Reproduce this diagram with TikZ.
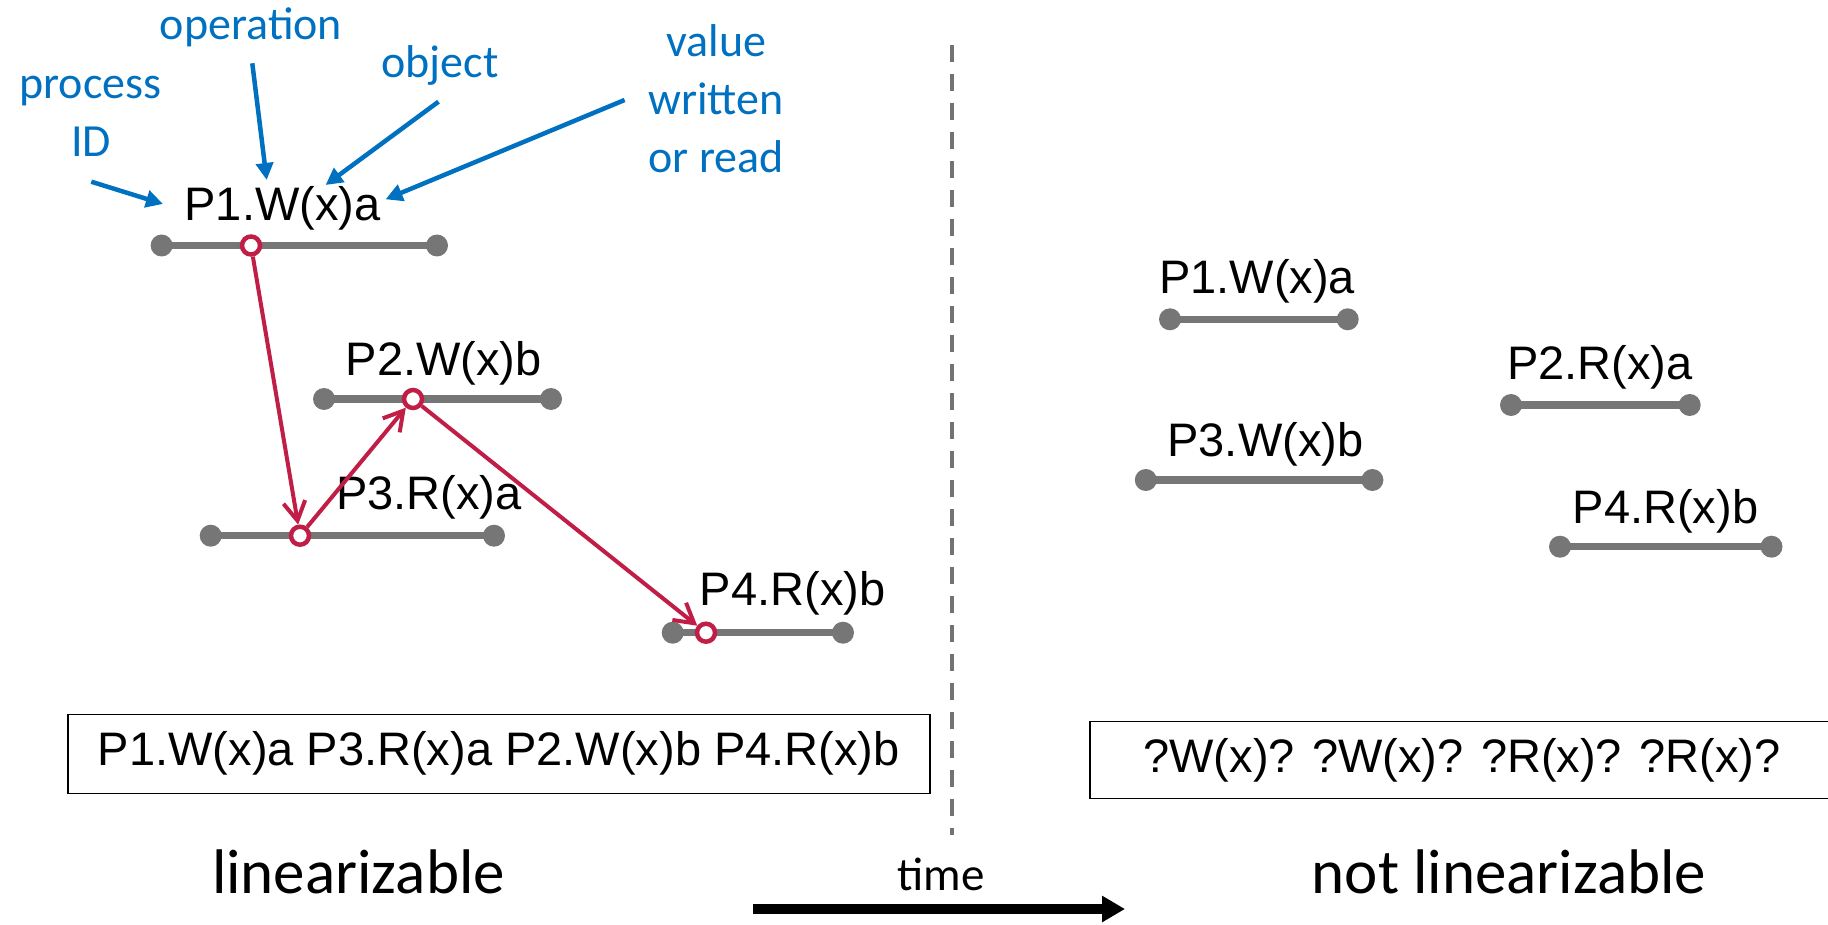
\documentclass[tikz,border=0pt]{standalone}
\usepackage{fontspec}
\setmainfont{Liberation Sans}
\newfontfamily\calib{Carlito}
\usetikzlibrary{arrows.meta}
\definecolor{barGray}{RGB}{118,118,118}
\definecolor{dashGray}{RGB}{115,115,115}
\definecolor{linkRed}{RGB}{192,30,70}
\definecolor{noteBlue}{RGB}{0,112,192}
\newcommand\opfont{\fontsize{47}{56}\selectfont}
\newcommand\notefont{\calib\fontsize{46}{55}\selectfont}
\newcommand\bigfont{\calib\fontsize{63}{75}\selectfont}
\newcommand\timefont{\calib\fontsize{47}{56}\selectfont}
\begin{document}
\begin{tikzpicture}[x=1pt,y=-1pt,
  bar/.style={line width=7.5pt,draw=barGray},
  enddot/.style={circle,fill=barGray,inner sep=0pt,minimum size=22pt},
  ev/.style={circle,draw=linkRed,line width=4.5pt,fill=white,inner sep=0pt,minimum size=18pt},
  link/.style={draw=linkRed,line width=4pt,-{Straight Barb[length=19pt,width=22pt]}},
  note/.style={text=noteBlue,inner sep=0pt,anchor=base,font=\notefont},
  pointer/.style={draw=noteBlue,line width=4.5pt,-{Triangle[length=17pt,width=17pt]}},
  oplabel/.style={inner sep=0pt,anchor=base,font=\opfont},
  seqbox/.style={draw=black,line width=1.5pt,inner sep=0pt,font=\opfont},
  divider/.style={draw=dashGray,line width=4pt,dash pattern=on 17pt off 12pt},
  timearrow/.style={draw=black,line width=10pt,-{Triangle[length=23pt,width=25pt]}}
]
\useasboundingbox (0,0) rectangle (1828,925);

% ---------- left: linearizable ----------
\node[enddot] (L1a) at (161.6,245.5) {};
\node[enddot] (L1b) at (437,245.5) {};
\node[enddot] (L2a) at (324,399) {};
\node[enddot] (L2b) at (551,399) {};
\node[enddot] (L3a) at (210.7,535.7) {};
\node[enddot] (L3b) at (494,535.7) {};
\node[enddot] (L4a) at (672.7,632.7) {};
\node[enddot] (L4b) at (843,632.7) {};
\draw[bar] (L1a.center) -- (L1b.center);
\draw[bar] (L2a.center) -- (L2b.center);
\draw[bar] (L3a.center) -- (L3b.center);
\draw[bar] (L4a.center) -- (L4b.center);

\node[oplabel] (t1) at (282.5,221) {P1.W(x)a};
\node[oplabel] (t2) at (443.6,375) {P2.W(x)b};
\node[oplabel] (t3) at (429,509) {P3.R(x)a};
\node[oplabel] (t4) at (792.6,605) {P4.R(x)b};

\node[ev] (e1) at (251,245.5) {};
\node[ev] (e2) at (413,399) {};
\node[ev] (e3) at (300,535.7) {};
\node[ev] (e4) at (706,632.7) {};
\draw[link] (e1) -- (e3);
\draw[link] (e3) -- (e2);
\draw[link] (e2) -- (e4);

% blue annotations
\node[note] (nProc) at (90.5,98.3) {process};
\node[note] (nID) at (91,156.7) {ID};
\node[note] (nOp) at (251,40) {operation};
\node[note] (nObj) at (440,77.3) {object};
\node[note] (nVal1) at (716.5,56.7) {value};
\node[note] (nVal2) at (716,115) {written};
\node[note] (nVal3) at (716,172.7) {or read};
\coordinate (pidS) at (91.3,181.7);
\coordinate (pidE) at (163,204);
\coordinate (opS) at (252.3,63.3);
\coordinate (opE) at (266.7,180);
\coordinate (objS) at (438.5,101.7);
\coordinate (objE) at (325.6,185);
\coordinate (valS) at (624.6,100);
\coordinate (valE) at (385.6,199.3);
\draw[pointer] (pidS) -- (pidE);
\draw[pointer] (opS) -- (opE);
\draw[pointer] (objS) -- (objE);
\draw[pointer] (valS) -- (valE);

\node[seqbox,minimum width=862pt,minimum height=79pt] (seqL) at (498.8,753.8) {P1.W(x)a P3.R(x)a P2.W(x)b P4.R(x)b};

% ---------- divider ----------
\coordinate (dTop) at (952,45);
\coordinate (dBot) at (952,835);
\draw[divider] (dTop) -- (dBot);

% ---------- right: not linearizable ----------
\node[enddot] (R1a) at (1170,319.3) {};
\node[enddot] (R1b) at (1347.7,319.3) {};
\node[enddot] (R2a) at (1511,405) {};
\node[enddot] (R2b) at (1689.7,405) {};
\node[enddot] (R3a) at (1145.8,480) {};
\node[enddot] (R3b) at (1372.4,480) {};
\node[enddot] (R4a) at (1560,546.7) {};
\node[enddot] (R4b) at (1771.5,546.7) {};
\draw[bar] (R1a.center) -- (R1b.center);
\draw[bar] (R2a.center) -- (R2b.center);
\draw[bar] (R3a.center) -- (R3b.center);
\draw[bar] (R4a.center) -- (R4b.center);

\node[oplabel] (u1) at (1257,293.3) {P1.W(x)a};
\node[oplabel] (u2) at (1600,379.3) {P2.R(x)a};
\node[oplabel] (u3) at (1265.4,456) {P3.W(x)b};
\node[oplabel] (u4) at (1665.5,523.3) {P4.R(x)b};

\node[seqbox,minimum width=744pt,minimum height=76.6pt] (seqR) at (1462,760) {?W(x)? ?W(x)? ?R(x)? ?R(x)?};

% ---------- bottom ----------
\node[inner sep=0pt,anchor=base,font=\bigfont] (capL) at (358.5,893) {linearizable};
\node[inner sep=0pt,anchor=base,font=\bigfont] (capR) at (1509,893) {not linearizable};
\node[inner sep=0pt,anchor=base,font=\timefont] (timeLbl) at (941,890) {time};
\coordinate (tS) at (753,909);
\coordinate (tE) at (1125,909);
\draw[timearrow] (tS) -- (tE);
\end{tikzpicture}
\end{document}
